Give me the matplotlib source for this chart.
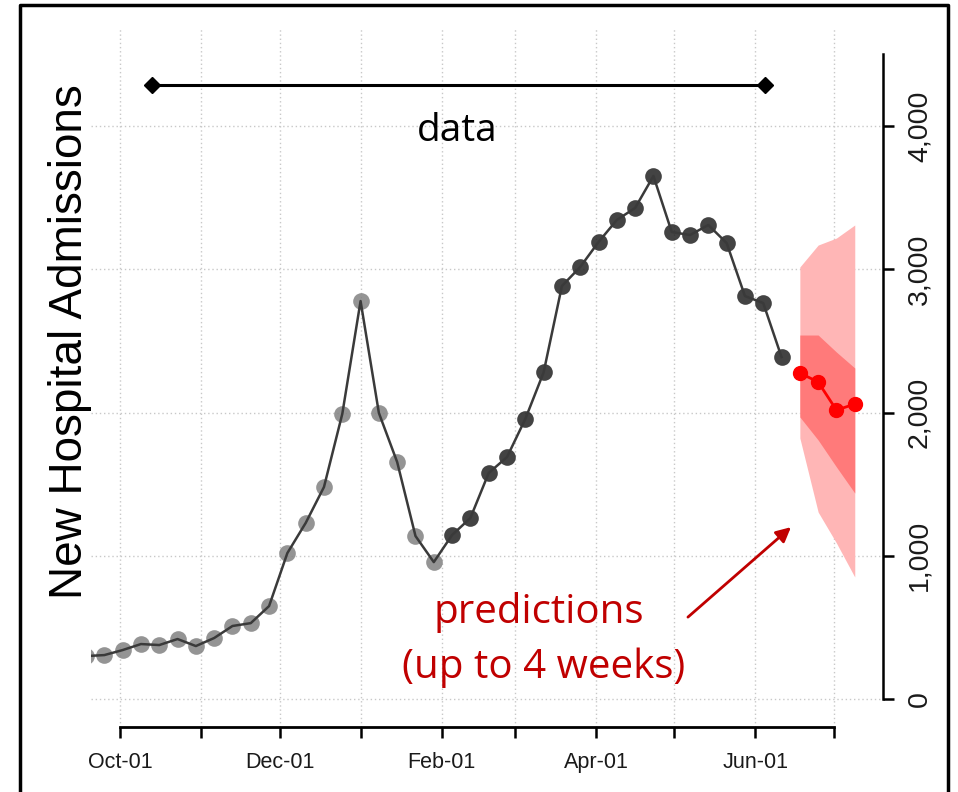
import pandas as pd
import matplotlib.pyplot as plt
import matplotlib.dates as mdates
from matplotlib.lines import Line2D

# Weekly hospital admissions (Fridays)
weeks = pd.date_range('2020-09-18', '2021-06-11', freq='7D')
admissions = [300, 307, 342, 384, 377, 419, 370, 426, 510, 530,
              649, 1019, 1229, 1480, 1990, 2778, 1997, 1654, 1138, 956,
              1145, 1264, 1578, 1689, 1955, 2280, 2883, 3016, 3190, 3344,
              3428, 3651, 3260, 3239, 3309, 3183, 2813, 2764, 2387]
n_grey = 20  # older weeks drawn in grey

# 4-week ahead forecast with 50% and 95% intervals
pred_weeks = pd.date_range('2021-06-18', periods=4, freq='7D')
pred_median = [2276, 2213, 2017, 2059]
pred_50_lo = [1969, 1808, 1620, 1438]
pred_50_hi = [2541, 2541, 2422, 2311]
pred_95_lo = [1822, 1305, 1089, 852]
pred_95_hi = [3016, 3169, 3218, 3309]

month_ticks = pd.date_range('2020-10-01', '2021-07-01', freq='MS')
month_labels = ['Oct-01', '', 'Dec-01', '', 'Feb-01', '', 'Apr-01', '', 'Jun-01', '']
y_ticks = [0, 1000, 2000, 3000, 4000]

W, H = 958, 792
fig = plt.figure(figsize=(W / 100, H / 100), dpi=100)
ax = fig.add_axes([91 / W, 65 / H, (883 - 91) / W, (727 - 28) / H])

ax.fill_between(pred_weeks, pred_95_lo, pred_95_hi, color='#ffb6b6', lw=0, zorder=1)
ax.fill_between(pred_weeks, pred_50_lo, pred_50_hi, color='#ff7a7a', lw=0, zorder=1.5)

ax.plot(weeks[:n_grey], admissions[:n_grey], 'o', ms=12, color='#828282',
        alpha=0.85, mec='none', zorder=2)
ax.plot(weeks[n_grey:], admissions[n_grey:], 'o', ms=12, color='#222222',
        alpha=0.85, mec='none', zorder=2)
ax.plot(weeks, admissions, color='#3a3a3a', lw=1.8, zorder=3)
ax.plot(pred_weeks, pred_median, 'o-', color='#ff0000', ms=10, lw=2, zorder=4)

origin = pd.Timestamp('2020-10-01')
ax.set_xlim(origin - pd.Timedelta(days=11.1), origin + pd.Timedelta(days=291.8))
ax.set_ylim(-195, 4684)

ax.set_xticks(month_ticks)
ax.set_xticklabels(month_labels, family='Liberation Sans', fontsize=15.5, color='#1a1a1a')
ax.tick_params(axis='x', length=8, width=1.8, pad=10)

ax.yaxis.tick_right()
ax.set_yticks(y_ticks)
ax.set_yticklabels([f'{v:,}' for v in y_ticks], family='Liberation Sans', fontsize=20.5,
                   color='#1a1a1a', rotation=90, va='center')
ax.tick_params(axis='y', length=8, width=1.8, pad=9)

for side in ['top', 'left']:
    ax.spines[side].set_visible(False)
ax.spines['bottom'].set_linewidth(2)
ax.spines['right'].set_linewidth(1.8)
ax.spines['bottom'].set_bounds(mdates.date2num(month_ticks[0]), mdates.date2num(month_ticks[-1]))
ax.spines['right'].set_bounds(0, 4500)

ax.grid(True, color='#c8c8c8', linestyle=(0, (1, 2)), lw=1.0)
ax.set_axisbelow(True)

# bracket over the observed period
ax.plot([origin + pd.Timedelta(days=12.2), origin + pd.Timedelta(days=246.7)], [4286, 4286],
        color='black', lw=2.2, marker='D', ms=8, zorder=5)
ax.text(origin + pd.Timedelta(days=128.9), 3965, 'data', ha='center', va='center',
        fontsize=28, family='Open Sans')

red = '#c00000'
ax.text(origin + pd.Timedelta(days=160), 607, 'predictions', ha='center', va='center',
        fontsize=29, family='Open Sans', color=red)
ax.text(origin + pd.Timedelta(days=162), 216, '(up to 4 weeks)', ha='center', va='center',
        fontsize=29, family='Open Sans', color=red)
ax.annotate('', xy=(mdates.date2num(origin + pd.Timedelta(days=256.6)), 1200),
            xytext=(mdates.date2num(origin + pd.Timedelta(days=217.2)), 572),
            arrowprops=dict(arrowstyle='-|>', color=red, lw=2, mutation_scale=22,
                            shrinkA=0, shrinkB=0))

fig.text(70 / W, 1 - 342 / H, 'New Hospital Admissions', rotation=90, ha='center',
         va='center', fontsize=33, family='Liberation Sans')

# frame around the figure (open at the bottom)
fig.add_artist(Line2D([20 / W, 20 / W, 948 / W, 948 / W], [0, 1 - 5 / H, 1 - 5 / H, 0],
                      transform=fig.transFigure, color='black', lw=2.5))

fig.savefig('out.png', dpi=100)
